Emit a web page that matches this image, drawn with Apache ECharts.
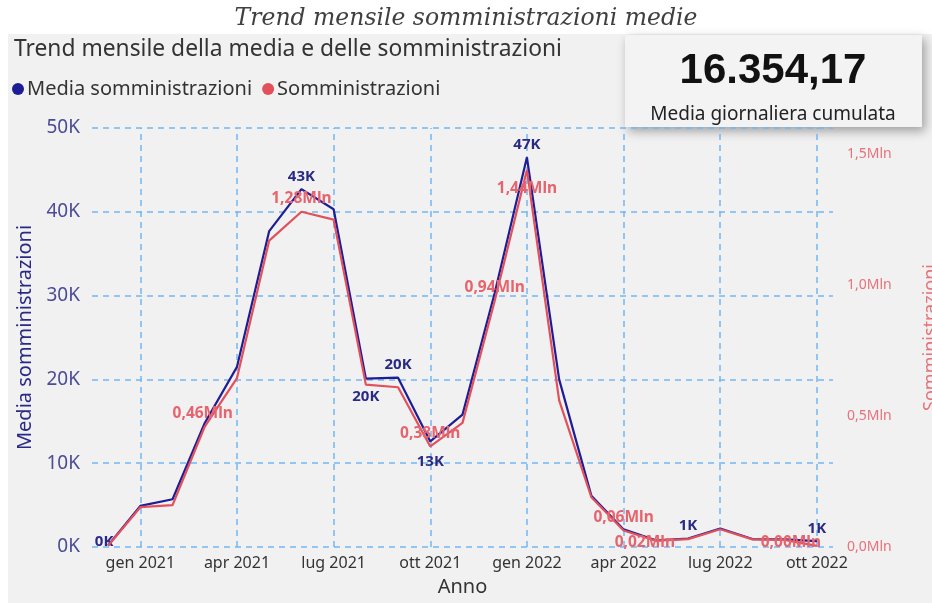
<!DOCTYPE html>
<html>
<head>
<meta charset="utf-8">
<title>Trend mensile somministrazioni medie</title>
<script src="https://cdn.jsdelivr.net/npm/echarts@6/dist/echarts.min.js"></script>
<style>
html, body { margin: 0; padding: 0; background: #fff; }
#chart { width: 932px; height: 603px; }
</style>
</head>
<body>
<div id="chart"></div>
<script>
// mesi (asse categorie)
var mesi = ['dic 2020', 'gen 2021', 'feb 2021', 'mar 2021', 'apr 2021', 'mag 2021', 'giu 2021',
            'lug 2021', 'ago 2021', 'set 2021', 'ott 2021', 'nov 2021', 'dic 2021', 'gen 2022',
            'feb 2022', 'mar 2022', 'apr 2022', 'mag 2022', 'giu 2022', 'lug 2022', 'ago 2022',
            'set 2022', 'ott 2022'];
// media giornaliera somministrazioni per mese
var mediaSomm = [200, 4900, 5700, 14800, 21500, 37700, 42700, 40300, 20100, 20200, 12600, 15800,
                 30300, 46500, 20000, 6100, 2100, 800, 1000, 2200, 950, 900, 700];
// somministrazioni totali per mese
var somministrazioni = [5000, 152000, 160000, 460000, 645000, 1170000, 1280000, 1250000, 620000,
                        610000, 384000, 474000, 940000, 1440000, 560000, 190000, 63000, 24000,
                        30000, 68000, 29000, 27000, 4000];
// etichette dell'asse x (trimestri)
var mesiTrimestre = ['gen 2021', 'apr 2021', 'lug 2021', 'ott 2021', 'gen 2022', 'apr 2022', 'lug 2022', 'ott 2022'];
var mediaCumulata = 16354.17;

// punti con etichetta: indice -> [posizione, offset]
var etichetteMedia = {0: ['inside', [-4, -4]], 6: ['top'], 8: ['bottom', [0, 6]], 9: ['top'], 10: ['bottom', [0, 8]],
                      13: ['top'], 18: ['top'], 22: ['top']};
var etichetteSomm = {3: ['top', [-2, 0]], 6: ['top'], 10: ['top'], 12: ['top'], 13: ['bottom', [0, 6]], 16: ['top'],
                     17: ['inside', [-11, 2]], 22: ['inside', [-26, -3]]};

var BLU = '#1d1d96';
var ROSSO = '#e2515b';
var FONT = '"Noto Sans", "Open Sans", sans-serif';

function numIt(v, dec) {
    var s = v.toFixed(dec).split('.');
    var intero = s[0].replace(/\B(?=(\d{3})+(?!\d))/g, '.');
    return dec > 0 ? intero + ',' + s[1] : intero;
}
function fmtK(v) { return Math.round(v / 1000) + 'K'; }
function fmtMln(v, dec) { return (v / 1e6).toFixed(dec).replace('.', ',') + 'Mln'; }

function conEtichette(valori, mappa) {
    return valori.map(function (v, i) {
        var e = mappa[i];
        if (!e) return v;
        return { value: v, label: { show: true, position: e[0], offset: e[1] || [0, 0] } };
    });
}

var myChart = echarts.init(document.getElementById('chart'));

var option = {
    backgroundColor: '#ffffff',
    animation: false,
    title: [
        {
            text: 'Trend mensile somministrazioni medie',
            left: 'center', top: 2,
            textStyle: { fontFamily: '"DejaVu Serif", serif', fontStyle: 'italic', fontWeight: 'normal', fontSize: 23.5, color: '#404040' }
        },
        {
            text: 'Trend mensile della media e delle somministrazioni',
            left: 9, top: 33,
            textStyle: { fontFamily: FONT, fontWeight: 'normal', fontSize: 22.8, color: '#333333' }
        }
    ],
    legend: {
        left: 12, top: 79, padding: 0,
        icon: 'circle', itemWidth: 12, itemHeight: 12, itemGap: 10,
        textStyle: { fontFamily: FONT, fontSize: 20, color: '#333333', padding: [0, 0, 0, -2] },
        data: [
            { name: 'Media somministrazioni', itemStyle: { color: BLU } },
            { name: 'Somministrazioni', itemStyle: { color: ROSSO } }
        ]
    },
    grid: { left: 92, right: 99, top: 128, bottom: 56, containLabel: false, outerBoundsMode: 'none' },
    xAxis: {
        type: 'category',
        data: mesi,
        boundaryGap: true,
        axisLine: { show: false },
        axisTick: { show: false },
        splitLine: { show: false },
        axisLabel: {
            interval: function (i, val) { return mesiTrimestre.indexOf(val) >= 0; },
            color: '#333333', fontFamily: FONT, fontSize: 16, margin: 8
        },
        name: 'Anno', nameLocation: 'middle', nameGap: 30,
        nameTextStyle: { color: '#333333', fontFamily: FONT, fontSize: 20 }
    },
    yAxis: [
        {
            type: 'value', min: 0, max: 50000, interval: 10000,
            axisLine: { show: false }, axisTick: { show: false },
            axisLabel: { color: '#4b4b96', fontFamily: FONT, fontSize: 19, margin: 12, formatter: fmtK },
            splitLine: { show: true, lineStyle: { color: '#74b6f2', width: 1.5, type: [6, 5] } },
            name: 'Media somministrazioni', nameLocation: 'middle', nameGap: 56,
            nameTextStyle: { color: '#2a2a86', fontFamily: FONT, fontSize: 20 }
        },
        {
            type: 'value', min: 0, max: 1600000, interval: 500000,
            axisLine: { show: false }, axisTick: { show: false },
            splitLine: { show: false },
            axisLabel: {
                color: '#e8717a', fontFamily: FONT, fontSize: 14, margin: 14, showMaxLabel: false,
                formatter: function (v) { return fmtMln(v, 1); }
            },
            name: 'Somministrazioni', nameLocation: 'middle', nameGap: 89, nameRotate: 90,
            nameTextStyle: { color: '#e8717a', fontFamily: FONT, fontSize: 18 }
        }
    ],
    series: [
        {
            name: 'Media somministrazioni',
            type: 'line',
            yAxisIndex: 0,
            data: conEtichette(mediaSomm, etichetteMedia),
            showSymbol: true,
            symbol: 'circle',
            symbolSize: 0,
            lineStyle: { color: BLU, width: 2.2 },
            itemStyle: { color: BLU },
            label: {
                show: false, color: '#2a2a86', fontFamily: FONT, fontSize: 15, fontWeight: 'bold',
                formatter: function (p) { return fmtK(p.value); }
            },
            markLine: {
                silent: true, symbol: 'none', z: 1,
                label: { show: false },
                lineStyle: { color: '#74b6f2', width: 1.5, type: [6, 5] },
                data: mesiTrimestre.map(function (m) { return { xAxis: m }; })
            },
            z: 3
        },
        {
            name: 'Somministrazioni',
            type: 'line',
            yAxisIndex: 1,
            data: conEtichette(somministrazioni, etichetteSomm),
            showSymbol: true,
            symbol: 'circle',
            symbolSize: 0,
            lineStyle: { color: ROSSO, width: 2.2 },
            itemStyle: { color: ROSSO },
            label: {
                show: false, color: '#e6646d', fontFamily: FONT, fontSize: 15.5, fontWeight: 'bold',
                formatter: function (p) { return fmtMln(p.value, 2); }
            },
            z: 4
        }
    ],
    graphic: [
        {
            type: 'rect', z: -10, silent: true,
            shape: { x: 8, y: 34, width: 924, height: 569 },
            style: { fill: '#f1f1f1' }
        },
        {
            type: 'group', z: 100,
            children: [
                {
                    type: 'rect',
                    shape: { x: 625, y: 35, width: 297, height: 92 },
                    style: { fill: '#f3f3f3', shadowBlur: 10, shadowColor: 'rgba(0,0,0,0.35)', shadowOffsetX: 3, shadowOffsetY: 4 }
                },
                {
                    type: 'text', x: 773, y: 71,
                    style: { text: numIt(mediaCumulata, 2), font: 'bold 42px "Liberation Sans", Arial, sans-serif', fill: '#111111', align: 'center', verticalAlign: 'middle' }
                },
                {
                    type: 'text', x: 773, y: 115,
                    style: { text: 'Media giornaliera cumulata', font: '19px "Noto Sans", sans-serif', fill: '#222222', align: 'center', verticalAlign: 'middle' }
                }
            ]
        }
    ]
};
myChart.setOption(option);
</script>
</body>
</html>
